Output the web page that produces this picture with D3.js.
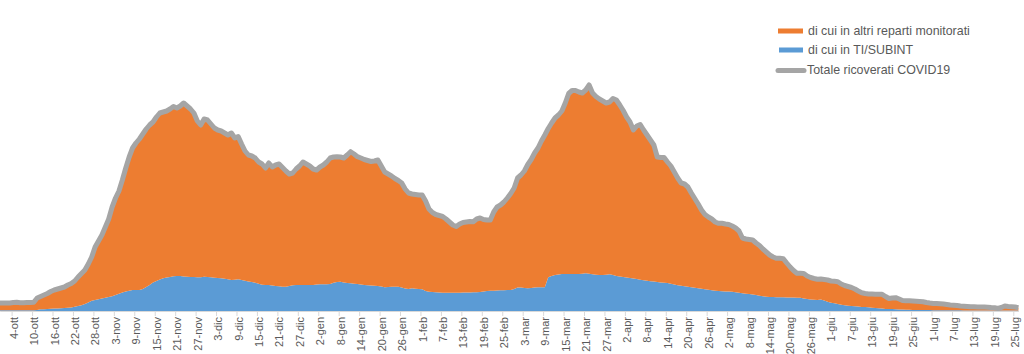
<!DOCTYPE html>
<html><head><meta charset="utf-8">
<script src="https://cdn.jsdelivr.net/npm/d3@7"></script>
<style>body{margin:0;background:#fff;overflow:hidden} svg{display:block}</style>
</head><body>
<svg id="chart" width="1024" height="354"></svg>
<script>
// ---- DATA ----
const startDate = "2020-09-30";      // first daily value
const firstTickDate = "2020-10-04";  // first labelled day
const tickStepDays = 6;

const totaleRicoverati = [
160,160,160,160,170,174,166,166,170,170,
174,260,290,320,350,390,420,440,460,480,
520,550,600,680,750,820,940,1080,1280,1400,
1520,1680,1840,2080,2260,2400,2620,2860,3080,3260,
3360,3440,3540,3640,3720,3780,3880,3960,3980,4000,
4040,4090,4060,4100,4160,4100,4040,3960,3800,3720,
3840,3820,3740,3660,3620,3600,3560,3520,3560,3460,
3490,3340,3200,3120,3100,3060,2980,2940,2860,2960,
2880,2920,2940,2870,2800,2740,2760,2840,2900,2980,
2940,2900,2840,2820,2880,2920,2980,3060,3080,3086,
3080,3060,3120,3186,3140,3086,3060,3030,3010,2990,
3000,3020,2900,2780,2740,2700,2650,2610,2560,2440,
2360,2340,2330,2320,2320,2200,2040,1970,1930,1910,
1890,1840,1780,1720,1690,1740,1770,1780,1790,1786,
1840,1860,1830,1820,1820,1980,2080,2120,2180,2260,
2350,2460,2660,2720,2800,2930,3030,3160,3260,3400,
3520,3650,3760,3860,3920,4000,4160,4350,4410,4410,
4380,4360,4420,4520,4360,4290,4240,4200,4160,4180,
4250,4220,4120,4010,3880,3780,3620,3700,3730,3620,
3520,3420,3320,3080,3070,3070,2980,2900,2780,2660,
2560,2540,2480,2360,2250,2140,2020,1930,1880,1840,
1780,1754,1754,1740,1730,1700,1660,1600,1460,1440,
1430,1420,1360,1310,1240,1180,1120,1080,1054,1054,
1046,960,880,810,754,754,750,700,670,650,
634,640,630,620,600,594,586,540,510,490,
470,440,400,364,350,340,340,336,334,334,
290,250,260,266,240,210,206,204,200,196,
192,186,170,160,152,150,146,140,130,120,
114,108,100,96,92,86,84,82,80,80,
76,70,66,50,70,100,90,86,80,66
];

const tiSubint = [
16,16,16,16,16,16,16,16,16,16,
16,20,34,36,40,44,48,52,54,60,
66,72,84,100,116,140,170,206,220,234,
248,264,280,296,320,346,370,390,406,420,
420,420,440,480,520,570,600,630,654,670,
680,696,700,700,692,686,680,680,674,674,
686,680,674,666,660,654,646,634,620,626,
634,620,606,590,580,566,546,526,520,520,
510,500,494,486,486,500,514,520,520,520,
520,520,520,530,534,534,534,540,566,580,
586,570,560,554,546,540,530,520,514,510,
506,500,490,474,480,486,486,486,470,450,
440,454,446,440,434,400,384,380,374,370,
366,366,366,366,366,366,368,370,372,374,
374,380,390,400,404,406,410,414,416,420,
420,440,470,470,460,454,460,470,474,474,
474,674,700,720,730,740,740,740,740,740,
740,746,754,746,736,726,720,720,726,734,
720,700,690,680,670,660,650,640,626,614,
604,596,590,580,572,566,560,546,530,516,
504,496,486,476,466,456,446,436,426,416,
406,400,396,392,390,386,376,366,356,346,
340,330,320,306,296,286,282,280,276,274,
274,272,270,268,266,264,250,240,230,224,
220,230,210,186,166,154,140,126,116,106,
100,94,88,82,78,74,66,60,54,48,
42,40,38,36,32,28,26,24,22,20,
20,19,18,18,17,16,16,15,15,14,
14,13,13,12,12,12,11,11,10,10,
10,10,9,9,9,8,8,8,8,8
];

const tickLabels = [
"4-ott","10-ott","16-ott","22-ott","28-ott","3-nov","9-nov","15-nov","21-nov","27-nov",
"3-dic","9-dic","15-dic","21-dic","27-dic","2-gen","8-gen","14-gen","20-gen","26-gen",
"1-feb","7-feb","13-feb","19-feb","25-feb","3-mar","9-mar","15-mar","21-mar","27-mar",
"2-apr","8-apr","14-apr","20-apr","26-apr","2-mag","8-mag","14-mag","20-mag","26-mag",
"1-giu","7-giu","13-giu","19-giu","25-giu","1-lug","7-lug","13-lug","19-lug","25-lug"
];

const seriesNames = ["di cui in altri reparti monitorati", "di cui in TI/SUBINT", "Totale ricoverati COVID19"];
const seriesColors = ["#ed7d31", "#5b9bd5", "#a5a5a5"];

// ---- CHART ----
const svg = d3.select("#chart");
const parse = d3.utcParse("%Y-%m-%d");
const t0 = parse(startDate);
const dates = totaleRicoverati.map((_, i) => d3.utcDay.offset(t0, i));
const rows = dates.map((d, i) => ({
  date: d,
  ti: tiSubint[i],
  altri: totaleRicoverati[i] - tiSubint[i],
  tot: totaleRicoverati[i]
}));

const x = d3.scaleUtc().domain([dates[0], dates[dates.length - 1]]).range([-0.3, 1018.4]);
const y = d3.scaleLinear().domain([0, 5000]).range([311, 61]);
const dayW = x(dates[1]) - x(dates[0]);

const stacked = d3.stack().keys(["ti", "altri"])(rows);
const area = d3.area()
  .x(d => x(d.data.date))
  .y0(d => y(d[0]))
  .y1(d => y(d[1]));

svg.append("g").selectAll("path")
  .data(stacked)
  .join("path")
  .attr("d", area)
  .attr("fill", (d, i) => i === 0 ? seriesColors[1] : seriesColors[0]);

// axis
const t1 = parse(firstTickDate);
const tickDates = tickLabels.map((_, k) => d3.utcDay.offset(t1, k * tickStepDays));
const gx = svg.append("g")
  .attr("transform", "translate(0,311)")
  .call(d3.axisBottom(x).tickValues(tickDates)
    .tickFormat((d, i) => tickLabels[i]).tickSize(5).tickSizeOuter(0));
gx.select(".domain").attr("stroke", "#d9d9d9");
gx.selectAll(".tick line").attr("stroke", "#d9d9d9")
  .attr("transform", `translate(${-dayW / 2},0)`);
gx.selectAll(".tick text")
  .attr("transform", "rotate(-90)")
  .attr("text-anchor", "end")
  .attr("x", -6).attr("y", 0).attr("dy", "0.35em")
  .attr("fill", "#595959")
  .style("font-family", "'Liberation Sans', Arial, sans-serif")
  .style("font-size", "11px");

// total line
const line = d3.line().x(d => x(d.date)).y(d => y(d.tot));
svg.append("path")
  .datum(rows)
  .attr("d", line)
  .attr("fill", "none")
  .attr("stroke", seriesColors[2])
  .attr("stroke-width", 5)
  .attr("stroke-linejoin", "round");

// legend
const lg = svg.append("g").style("font-family", "'Liberation Sans', Arial, sans-serif")
  .style("font-size", "12.4px").attr("fill", "#595959");
lg.append("rect").attr("x", 778).attr("y", 28.5).attr("width", 25).attr("height", 5).attr("fill", seriesColors[0]);
lg.append("text").attr("x", 808).attr("y", 31).attr("dy", "0.35em").text(seriesNames[0]);
lg.append("rect").attr("x", 779).attr("y", 47.5).attr("width", 24).attr("height", 5).attr("fill", seriesColors[1]);
lg.append("text").attr("x", 808).attr("y", 50).attr("dy", "0.35em").text(seriesNames[1]);
lg.append("line").attr("x1", 778).attr("x2", 804).attr("y1", 70.5).attr("y2", 70.5)
  .attr("stroke", seriesColors[2]).attr("stroke-width", 5).attr("stroke-linecap", "round");
lg.append("text").attr("x", 807).attr("y", 70).attr("dy", "0.35em").text(seriesNames[2]);
</script>
</body></html>
